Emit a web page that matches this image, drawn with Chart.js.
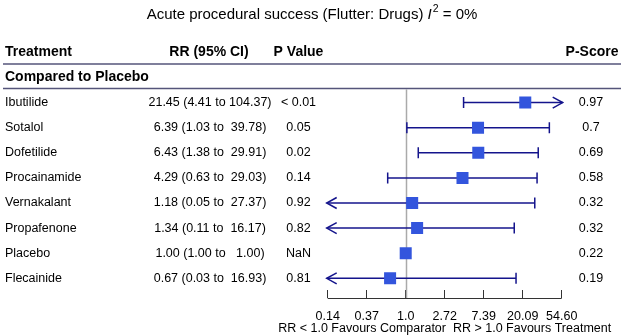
<!DOCTYPE html>
<html>
<head>
<meta charset="utf-8">
<script src="https://cdn.jsdelivr.net/npm/chart.js@4.4.1/dist/chart.umd.min.js"></script>
<style>
  html, body { margin: 0; padding: 0; background: #fff; }
  #wrap { width: 622px; height: 336px; }
</style>
</head>
<body>
<div id="wrap"><canvas id="forest" width="622" height="336"></canvas></div>
<script>
// Données
const treatments = ['Ibutilide', 'Sotalol', 'Dofetilide', 'Procainamide', 'Vernakalant', 'Propafenone', 'Placebo', 'Flecainide'];
const rr = [21.45, 6.39, 6.43, 4.29, 1.18, 1.34, 1.00, 0.67];
const rrLow = [4.41, 1.03, 1.38, 0.63, 0.05, 0.11, 1.00, 0.03];
const rrHigh = [104.37, 39.78, 29.91, 29.03, 27.37, 16.17, 1.00, 16.93];
const pValues = ['< 0.01', '0.05', '0.02', '0.14', '0.92', '0.82', 'NaN', '0.81'];
const pScores = ['0.97', '0.7', '0.69', '0.58', '0.32', '0.32', '0.22', '0.19'];
const tickValues = [0.1353, 0.3679, 1, 2.7183, 7.3891, 20.0855, 54.5982];
const tickLabels = ['0.14', '0.37', '1.0', '2.72', '7.39', '20.09', '54.60'];
const axisTitle = 'RR < 1.0 Favours Comparator  RR > 1.0 Favours Treatment';

const FONT = '"Liberation Sans", Arial, sans-serif';
const NAVY = '#14148c';
const BLUE = '#3355dd';

// texte RR (IC 95%) comme dans le tableau d'origine
function rrText(i) {
    const hi = rrHigh[i].toFixed(2).padStart(6, ' ');
    return rr[i].toFixed(2) + ' (' + rrLow[i].toFixed(2) + ' to ' + hi + ')';
}

const forestPlugin = {
    id: 'forest',
    beforeDatasetsDraw(chart) {
        const { ctx, chartArea, scales: { x, y } } = chart;
        ctx.save();
        // ligne de référence RR = 1
        const x1 = Math.round(x.getPixelForValue(1)) + 0.5;
        ctx.strokeStyle = '#aaaaaa';
        ctx.lineWidth = 1.5;
        ctx.beginPath();
        ctx.moveTo(x1, chartArea.top + 1);
        ctx.lineTo(x1, chartArea.bottom + 8.5);
        ctx.stroke();

        // intervalles de confiance
        ctx.strokeStyle = NAVY;
        ctx.lineWidth = 1.5;
        const cap = 5.5;
        rr.forEach((v, i) => {
            if (rrLow[i] === rrHigh[i]) return;
            const yy = y.getPixelForValue(i);
            const lo = rrLow[i] < x.min;
            const hi = rrHigh[i] > x.max;
            const xa = lo ? x.left - 1 : x.getPixelForValue(rrLow[i]);
            const xb = hi ? x.right + 1 : x.getPixelForValue(rrHigh[i]);
            ctx.beginPath();
            ctx.moveTo(xa, yy);
            ctx.lineTo(xb, yy);
            ctx.stroke();
            ctx.beginPath();
            if (lo) {
                ctx.moveTo(xa + 10, yy - cap);
                ctx.lineTo(xa, yy);
                ctx.lineTo(xa + 10, yy + cap);
            } else {
                ctx.moveTo(xa, yy - cap);
                ctx.lineTo(xa, yy + cap);
            }
            if (hi) {
                ctx.moveTo(xb - 10, yy - cap);
                ctx.lineTo(xb, yy);
                ctx.lineTo(xb - 10, yy + cap);
            } else {
                ctx.moveTo(xb, yy - cap);
                ctx.lineTo(xb, yy + cap);
            }
            ctx.stroke();
        });
        ctx.restore();
    },
    afterDraw(chart) {
        const { ctx, chartArea, scales: { x, y } } = chart;
        ctx.save();
        ctx.fillStyle = '#000';
        ctx.textBaseline = 'middle';

        // titre avec I² en italique
        const parts = [
            { t: 'Acute procedural success (Flutter: Drugs) ', f: '15px ' + FONT, dy: 0 },
            { t: 'I', f: 'italic 15px ' + FONT, dy: 0 },
            { t: '2', f: '10.5px ' + FONT, dy: -6 },
            { t: ' = 0%', f: '15px ' + FONT, dy: 0 }
        ];
        let total = 0;
        parts.forEach(p => { ctx.font = p.f; p.w = ctx.measureText(p.t).width; total += p.w; });
        let tx = 311.5 - total / 2;
        ctx.textAlign = 'left';
        parts.forEach(p => { ctx.font = p.f; ctx.fillText(p.t, tx, 15 + p.dy); tx += p.w + (p.t === 'I' ? 1 : 0); });

        // en-têtes du tableau
        ctx.font = 'bold 14px ' + FONT;
        ctx.textAlign = 'left';
        ctx.fillText('Treatment', 5, 52);
        ctx.fillText('Compared to Placebo', 5, 77.5);
        ctx.textAlign = 'center';
        ctx.fillText('RR (95% CI)', 209, 52);
        ctx.fillText('P Value', 298.5, 52);
        ctx.fillText('P-Score', 592, 52);

        ctx.strokeStyle = '#55557a';
        ctx.lineWidth = 1.5;
        [64, 88.5].forEach(ly => {
            ctx.beginPath();
            ctx.moveTo(3, ly);
            ctx.lineTo(621, ly);
            ctx.stroke();
        });

        // lignes du tableau
        ctx.font = '12.5px ' + FONT;
        treatments.forEach((name, i) => {
            const yy = y.getPixelForValue(i);
            ctx.textAlign = 'left';
            ctx.fillText(name, 5, yy);
            ctx.textAlign = 'center';
            ctx.fillText(rrText(i), 210, yy);
            ctx.fillText(pValues[i], 298.5, yy);
            ctx.fillText(pScores[i], 591, yy);
        });

        // légende sous l'axe
        ctx.textAlign = 'center';
        ctx.fillText(axisTitle, (x.left + x.right) / 2, 329);

        // ligne de l'axe x
        ctx.strokeStyle = '#333';
        ctx.lineWidth = 1;
        ctx.beginPath();
        ctx.moveTo(x.getPixelForValue(tickValues[0]), chartArea.bottom + 8.5);
        ctx.lineTo(x.getPixelForValue(tickValues[tickValues.length - 1]), chartArea.bottom + 8.5);
        ctx.stroke();
        ctx.restore();
    }
};

document.addEventListener('DOMContentLoaded', () => {
    const ctx = document.getElementById('forest').getContext('2d');

    new Chart(ctx, {
        type: 'scatter',
        data: {
            datasets: [{
                data: rr.map((v, i) => ({ x: v, y: i })),
                pointStyle: 'rect',
                pointRadius: 8.5,
                pointHoverRadius: 8.5,
                backgroundColor: BLUE,
                borderColor: BLUE,
                borderWidth: 0
            }]
        },
        options: {
            responsive: false,
            animation: false,
            events: [],
            layout: { padding: { left: 327.7, right: 60.3, top: 88.5, bottom: 0 } },
            plugins: {
                legend: { display: false },
                tooltip: { enabled: false },
                title: { display: false }
            },
            scales: {
                x: {
                    type: 'logarithmic',
                    min: tickValues[0],
                    max: tickValues[tickValues.length - 1],
                    afterBuildTicks: (s) => { s.ticks = tickValues.map(v => ({ value: v })); },
                    afterFit: (s) => { s.height = 46; },
                    ticks: {
                        callback: (v, i) => tickLabels[i],
                        color: '#000',
                        font: { family: FONT, size: 12.5 },
                        padding: 11,
                        maxRotation: 0,
                        autoSkip: false
                    },
                    grid: { drawOnChartArea: false, drawTicks: true, tickLength: 8, color: '#333', lineWidth: 1 },
                    border: { display: false },
                    title: { display: false }
                },
                y: {
                    type: 'linear',
                    reverse: true,
                    min: -0.5618,
                    max: 7.466,
                    display: false
                }
            }
        },
        plugins: [forestPlugin]
    });
});
</script>
</body>
</html>
